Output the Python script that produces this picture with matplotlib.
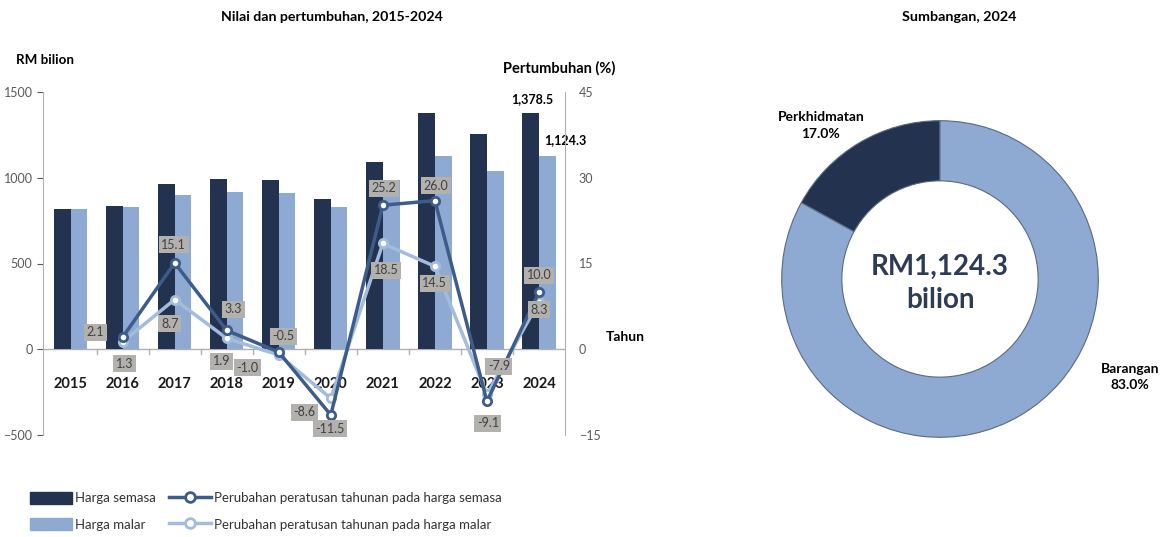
import matplotlib
matplotlib.use('Agg')
import matplotlib.pyplot as plt
from matplotlib.patches import Patch
from matplotlib.lines import Line2D

plt.rcParams['font.family'] = ['Lato', 'DejaVu Sans']

# data
years = ['2015', '2016', '2017', '2018', '2019', '2020', '2021', '2022', '2023', '2024']
semasa = [817.6, 834.8, 960.9, 992.6, 987.6, 874.0, 1094.2, 1378.7, 1253.2, 1378.5]
malar = [818.3, 829.0, 901.1, 918.2, 909.0, 830.8, 984.5, 1127.2, 1038.1, 1124.3]
growth_years = years[1:]
g_semasa = [2.1, 15.1, 3.3, -0.5, -11.5, 25.2, 26.0, -9.1, 10.0]
g_malar = [1.3, 8.7, 1.9, -1.0, -8.6, 18.5, 14.5, -7.9, 8.3]
share_labels = ['Perkhidmatan', 'Barangan']
share_vals = [17.0, 83.0]

# label offsets (pixels)
off_semasa = [(-27, 5), (-1, 18), (7, 21), (5, 16), (-1, -14), (1, 17), (1, 15), (1, -22), (0, 17)]
off_malar = [(2, -22), (-5, -24), (-5, -23), (-31, -13), (-26, -14), (3, -27), (0, -17), (12, 28), (0, -8)]

c_dark = '#22324f'
c_light = '#8ea9d2'
c_ldark = '#3e5c8a'
c_llight = '#a3bbdc'

fig = plt.figure(figsize=(11.71, 5.37), dpi=100)
W, H = 1171, 537

ax = fig.add_axes([43 / W, 1 - 435 / H, (565 - 43) / W, (435 - 92) / H])
x = list(range(len(years)))
bw = 0.32
ax.bar([i - bw / 2 for i in x], semasa, bw, color=c_dark, zorder=2)
ax.bar([i + bw / 2 for i in x], malar, bw, color=c_light, zorder=2)
ax.set_xlim(-0.53, 9.5)
ax.set_ylim(-500, 1500)
ax.set_yticks([-500, 0, 500, 1000, 1500])
ax.set_xticks([])
ax.tick_params(axis='y', colors='#595959', labelsize=9, length=4, width=0.8)
for s in ['top', 'right', 'bottom']:
    ax.spines[s].set_visible(False)
ax.spines['left'].set_color('#b0b0b0')
ax.axhline(0, color='#b0b0b0', lw=1, zorder=1)
for i in x[:-1]:
    ax.plot([i + 0.5, i + 0.5], [0, -30], color='#b0b0b0', lw=1)
for i, yr in enumerate(years):
    ax.text(i, -200, yr, ha='center', va='center', fontsize=10.5, fontweight='bold', color='#1a1a1a')

ax.annotate('1,378.5', (9 - bw / 2, semasa[-1]), xytext=(2, 8), textcoords='offset pixels',
            ha='center', va='bottom', fontsize=9, fontweight='bold')
ax.annotate('1,124.3', (9 + bw / 2, malar[-1]), xytext=(18, 10), textcoords='offset pixels',
            ha='center', va='bottom', fontsize=9, fontweight='bold')

ax2 = ax.twinx()
ax2.set_ylim(-15, 45)
ax2.set_yticks([-15, 0, 15, 30, 45])
ax2.tick_params(axis='y', colors='#595959', labelsize=9, length=0, pad=10)
for s in ['top', 'left', 'bottom']:
    ax2.spines[s].set_visible(False)
ax2.spines['right'].set_color('#b0b0b0')
gx = list(range(1, len(years)))
ax2.plot(gx, g_malar, color=c_llight, lw=2.5, marker='o', ms=6, mfc='white', mec=c_llight, mew=2, zorder=3)
ax2.plot(gx, g_semasa, color=c_ldark, lw=2.5, marker='o', ms=6, mfc='white', mec=c_ldark, mew=2, zorder=4)
box = dict(boxstyle='square,pad=0.2', fc='#b3b1ae', ec='none')
for xi, v, o in zip(gx, g_semasa, off_semasa):
    ax2.annotate(f'{v:.1f}', (xi, v), xytext=o, textcoords='offset pixels', ha='center', va='center',
                 fontsize=9, color='#404040', bbox=box, zorder=5)
for xi, v, o in zip(gx, g_malar, off_malar):
    ax2.annotate(f'{v:.1f}', (xi, v), xytext=o, textcoords='offset pixels', ha='center', va='center',
                 fontsize=9, color='#404040', bbox=box, zorder=5)

fig.text(332 / W, 1 - 17 / H, 'Nilai dan pertumbuhan, 2015-2024', ha='center', va='center', fontsize=10.2, fontweight='bold')
fig.text(16 / W, 1 - 60 / H, 'RM bilion', ha='left', va='center', fontsize=9.6, fontweight='bold')
fig.text(559 / W, 1 - 68 / H, 'Pertumbuhan (%)', ha='center', va='center', fontsize=10.5, fontweight='bold')
fig.text(606 / W, 1 - 337 / H, 'Tahun', ha='left', va='center', fontsize=10, fontweight='bold')
fig.text(959 / W, 1 - 17 / H, 'Sumbangan, 2024', ha='center', va='center', fontsize=10.4, fontweight='bold')

# donut
R = 158.3
ax3 = fig.add_axes([(940 - 200) / W, (H - 279 - 200) / H, 400 / W, 400 / H])
ax3.pie(share_vals, colors=[c_dark, c_light], startangle=90, counterclock=True, radius=1,
        wedgeprops=dict(width=0.38, edgecolor='#5a6a80', linewidth=0.8))
lim = 200 / R
ax3.set_xlim(-lim, lim)
ax3.set_ylim(-lim, lim)
ax3.text(0, 0.076, 'RM1,124.3', ha='center', va='center', fontsize=20, fontweight='bold', color='#2e3b55')
ax3.text(0, -0.13, 'bilion', ha='center', va='center', fontsize=20, fontweight='bold', color='#2e3b55')
ax3.text(-0.752, 0.97, f'{share_labels[0]}\n{share_vals[0]:.1f}%', ha='center', va='center',
         fontsize=10, fontweight='bold', linespacing=1.45)
ax3.text(1.2, -0.62, f'{share_labels[1]}\n{share_vals[1]:.1f}%', ha='center', va='center',
         fontsize=10, fontweight='bold', linespacing=1.45)

handles = [Patch(color=c_dark), Line2D([], [], color=c_ldark, lw=2.5, marker='o', ms=7, mfc='white', mec=c_ldark, mew=2),
           Patch(color=c_light), Line2D([], [], color=c_llight, lw=2.5, marker='o', ms=7, mfc='white', mec=c_llight, mew=2)]
labels = ['Harga semasa', 'Perubahan peratusan tahunan pada harga semasa',
          'Harga malar', 'Perubahan peratusan tahunan pada harga malar']
fig.legend([handles[0], handles[2], handles[1], handles[3]], [labels[0], labels[2], labels[1], labels[3]],
           ncol=2, loc='upper left', bbox_to_anchor=(18 / W, 1 - 480 / H), frameon=False,
           fontsize=9.5, handlelength=3.2, handleheight=1.0, handletextpad=0.2, columnspacing=1.0,
           labelspacing=1.05, labelcolor='#333333')

fig.savefig('out.png', dpi=100)
